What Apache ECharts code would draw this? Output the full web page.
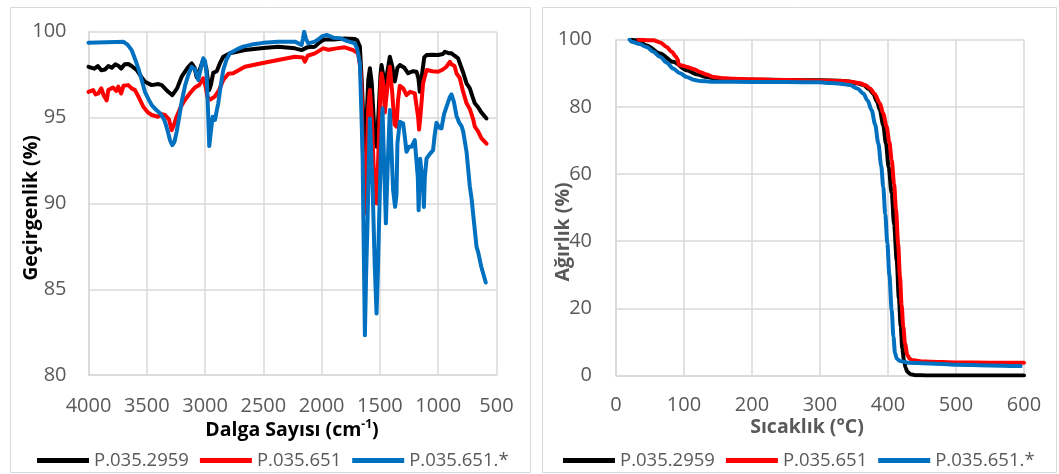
<!DOCTYPE html>
<html>
<head>
<meta charset="utf-8">
<script src="https://cdn.jsdelivr.net/npm/echarts@6/dist/echarts.min.js"></script>
<style>
  html, body { margin: 0; padding: 0; background: #ffffff; }
  #chart { width: 1059px; height: 474px; }
</style>
</head>
<body>
<div id="chart"></div>
<script>
// Sample names shared by both panels
const seriesNames = ['P.035.2959', 'P.035.651', 'P.035.651.*'];
const seriesColors = ['#000000', '#ff0000', '#0070c0'];

// FTIR axis ticks (wavenumber, cm-1) and transmittance (%)
const ftirXTicks = { min: 500, max: 4000, step: 500 };
const ftirYTicks = { min: 80, max: 100, step: 5 };

// TGA axis ticks (temperature, °C) and weight (%)
const tgaXTicks = { min: 0, max: 600, step: 100 };
const tgaYTicks = { min: 0, max: 100, step: 20 };

// FTIR spectra: [wavenumber, transmittance %]
const ftirP2959 = [
  [4000, 97.95], [3987, 97.96], [3950, 97.85], [3920, 98.0], [3890, 97.75], [3859, 97.8], [3830, 98.0],
  [3800, 97.9], [3770, 98.1], [3744, 98.02], [3720, 97.85], [3690, 98.1], [3659, 98.12], [3630, 98.0],
  [3587, 97.77], [3550, 97.4], [3516, 97.09], [3458, 96.89], [3400, 96.95], [3372, 96.89], [3316, 96.5],
  [3281, 96.31], [3240, 96.7], [3201, 97.38], [3150, 97.9], [3115, 98.16], [3090, 97.9], [3072, 97.35],
  [3040, 97.9], [3016, 98.35], [2990, 97.9], [2965, 96.6], [2950, 96.9], [2930, 97.6], [2900, 97.7],
  [2870, 98.2], [2844, 98.54], [2787, 98.74], [2658, 98.93], [2500, 99.05], [2373, 99.13], [2229, 99.03],
  [2172, 98.93], [2120, 99.1], [2058, 99.13], [2015, 99.4], [1977, 99.55], [1900, 99.55], [1800, 99.6],
  [1715, 99.58], [1695, 99.5], [1672, 99.13], [1655, 97.0], [1640, 94.5], [1629, 93.1], [1615, 94.8],
  [1600, 97.2], [1586, 97.87], [1570, 97.0], [1550, 94.5], [1529, 93.3], [1510, 95.5], [1495, 97.5],
  [1486, 98.06], [1470, 97.4], [1458, 96.3], [1440, 97.5], [1415, 98.54], [1395, 98.0], [1372, 97.1],
  [1350, 97.9], [1329, 98.06], [1315, 98.16], [1290, 97.9], [1258, 97.58], [1220, 97.7], [1186, 97.67],
  [1170, 97.3], [1158, 96.5], [1145, 97.2], [1120, 98.5], [1100, 98.64], [1050, 98.66], [1001, 98.64],
  [960, 98.7], [943, 98.83], [910, 98.75], [900, 98.83], [886, 98.74], [860, 98.6], [829, 98.45],
  [815, 98.16], [790, 97.7], [757, 96.99], [729, 96.7], [700, 96.1], [686, 95.83], [658, 95.6],
  [630, 95.3], [586, 94.95]
];
const ftirP651 = [
  [4000, 96.5], [3987, 96.5], [3960, 96.6], [3940, 96.35], [3916, 96.41], [3890, 96.7], [3870, 96.3],
  [3844, 96.0], [3830, 96.6], [3816, 96.5], [3790, 96.75], [3760, 96.55], [3744, 96.8], [3720, 96.4],
  [3700, 96.85], [3659, 96.89], [3630, 96.7], [3601, 96.6], [3570, 96.2], [3530, 95.63], [3490, 95.3],
  [3458, 95.15], [3402, 95.05], [3370, 95.2], [3344, 95.15], [3310, 94.9], [3287, 94.27], [3265, 94.6],
  [3244, 95.05], [3210, 95.6], [3173, 96.02], [3120, 96.5], [3087, 96.75], [3050, 96.9], [3016, 97.29],
  [2995, 96.8], [2980, 96.2], [2955, 96.05], [2940, 96.1], [2915, 96.24], [2880, 96.6], [2844, 97.19],
  [2800, 97.55], [2759, 97.58], [2658, 97.96], [2515, 98.16], [2373, 98.35], [2229, 98.54], [2160, 98.5],
  [2144, 98.25], [2120, 98.6], [2058, 98.74], [1987, 99.03], [1940, 98.95], [1872, 99.03], [1802, 99.09],
  [1730, 98.93], [1687, 98.74], [1670, 98.0], [1658, 96.8], [1645, 92.5], [1629, 89.42], [1615, 92.0],
  [1600, 95.5], [1586, 96.6], [1570, 95.0], [1550, 91.5], [1529, 90.0], [1510, 93.5], [1495, 96.8],
  [1486, 97.58], [1470, 96.9], [1458, 95.3], [1440, 96.5], [1415, 97.96], [1395, 96.5], [1375, 94.6],
  [1358, 94.47], [1345, 96.0], [1329, 96.85], [1300, 96.7], [1272, 96.31], [1240, 96.5], [1201, 96.41],
  [1186, 96.3], [1172, 95.0], [1164, 94.3], [1150, 95.3], [1130, 97.0], [1100, 97.77], [1050, 97.7],
  [1001, 97.67], [960, 97.8], [929, 97.96], [900, 98.25], [886, 98.1], [860, 98.0], [843, 97.58],
  [815, 97.3], [790, 96.6], [757, 95.83], [729, 95.5], [700, 94.9], [686, 94.47], [658, 94.2],
  [630, 93.8], [586, 93.48]
];
const ftirP651Star = [
  [4000, 99.36], [3987, 99.36], [3850, 99.38], [3760, 99.4], [3702, 99.42], [3665, 99.25], [3630, 98.93],
  [3600, 98.4], [3573, 97.87], [3540, 97.1], [3516, 96.5], [3480, 96.0], [3458, 95.73], [3420, 95.45],
  [3387, 95.25], [3360, 95.0], [3344, 94.76], [3320, 94.2], [3301, 93.69], [3281, 93.4], [3262, 93.6],
  [3244, 94.17], [3220, 95.1], [3201, 95.92], [3170, 96.9], [3144, 97.48], [3115, 97.96], [3085, 97.8],
  [3059, 97.19], [3035, 97.9], [3016, 98.45], [3000, 98.3], [2987, 97.58], [2975, 95.5], [2964, 93.34],
  [2950, 94.2], [2935, 95.05], [2915, 94.86], [2900, 95.4], [2887, 95.83], [2865, 96.9], [2844, 97.77],
  [2815, 98.4], [2787, 98.74], [2720, 99.0], [2673, 99.13], [2600, 99.25], [2500, 99.35], [2373, 99.42],
  [2229, 99.42], [2172, 99.23], [2160, 99.6], [2150, 100.0], [2135, 99.6], [2115, 99.32], [2058, 99.42],
  [2030, 99.55], [2001, 99.71], [1958, 99.81], [1900, 99.65], [1844, 99.62], [1780, 99.45], [1715, 99.32],
  [1695, 99.0], [1672, 98.16], [1660, 95.5], [1649, 92.92], [1638, 87.0], [1629, 82.33], [1618, 86.0],
  [1606, 89.03], [1595, 92.5], [1586, 94.95], [1575, 93.0], [1563, 90.97], [1545, 86.5], [1529, 83.59],
  [1518, 86.0], [1507, 89.03], [1492, 93.0], [1478, 95.54], [1465, 92.5], [1449, 88.84], [1432, 92.5],
  [1415, 95.44], [1400, 93.0], [1387, 90.78], [1370, 89.8], [1358, 90.5], [1350, 93.5], [1329, 94.76],
  [1301, 94.66], [1285, 93.8], [1272, 93.01], [1250, 93.3], [1229, 93.3], [1201, 93.69], [1186, 93.79],
  [1175, 91.5], [1168, 89.61], [1155, 92.6], [1143, 92.53], [1130, 91.0], [1123, 89.8], [1115, 91.5],
  [1100, 92.62], [1070, 92.9], [1044, 93.1], [1030, 94.0], [1015, 94.7], [990, 94.4], [972, 94.37],
  [950, 95.2], [929, 95.63], [900, 96.2], [886, 96.35], [865, 95.9], [843, 95.1], [820, 94.7],
  [800, 94.5], [786, 94.2], [757, 93.01], [729, 91.0], [714, 90.29], [690, 88.7], [671, 87.47],
  [658, 87.18], [630, 86.3], [592, 85.4]
];

// TGA curves: [temperature °C, weight %]
const tgaP2959 = [
  [22, 100], [30, 99.8], [45, 98.3], [65, 95.9], [84, 93.4], [104, 90.9], [120, 89.6], [133, 88.9],
  [150, 88.3], [172, 88.2], [200, 88.1], [250, 88.0], [300, 87.9], [330, 87.8], [345, 87.5], [355, 87.0],
  [364, 86.5], [372, 85.3], [378, 84.0], [384, 81.5], [388, 79.1], [393, 74.5], [397, 69.1], [401, 62],
  [405.4, 54.3], [409, 45], [412.8, 34.4], [416, 23], [418.7, 14.5], [421, 8], [423.5, 4.6], [426, 2.2],
  [428.4, 1.1], [433, 0.4], [440, 0.1], [460, 0], [600, 0]
];
const tgaP651 = [
  [33, 100], [55, 99.8], [65, 99.2], [74.5, 97.8], [82, 96.4], [88, 95.0], [91, 94.0], [92, 92.6],
  [97, 92.3], [104, 91.9], [115, 91.2], [123.5, 90.4], [133, 89.6], [143, 88.9], [160, 88.5],
  [172.5, 88.4], [200, 88.2], [250, 88.0], [300, 87.8], [330, 87.7], [345, 87.5], [359, 87.0],
  [367, 86.4], [373.5, 85.5], [380, 84.0], [388, 81.1], [393, 78.0], [398, 74.1], [402, 69.5],
  [405.4, 64.2], [409, 57], [411.8, 49.3], [415, 39], [417.6, 29.4], [420, 21], [422.5, 14.5],
  [425, 9.5], [428.4, 6.1], [432, 5.0], [434.8, 4.6], [450, 4.2], [461.8, 4.1], [500, 3.9],
  [550, 3.8], [600, 3.8]
];
const tgaP651Star = [
  [20, 100], [23, 99.4], [35, 98.7], [45, 97.8], [55, 96.4], [64.7, 94.9], [75, 93.1], [84, 91.4],
  [94, 90.0], [104, 88.9], [114, 88.1], [123.5, 87.7], [140, 87.5], [200, 87.4], [250, 87.4],
  [300, 87.3], [314.7, 87.1], [330, 86.9], [344, 86.5], [355, 85.5], [363.7, 84.0], [370, 81.9],
  [376, 79.0], [381, 74.8], [385.8, 69.1], [390, 62.5], [393, 56.2], [396, 48], [399, 39.4],
  [402, 30], [405.4, 19.6], [408, 11.5], [410.3, 6.7], [413, 5.0], [417.6, 4.3], [430, 3.8],
  [461.8, 3.6], [500, 3.2], [550, 3.0], [595, 2.8]
];

const FONT = "'Open Sans', 'Liberation Sans', sans-serif";
const GRID_COLOR = '#d9d9d9';
const LABEL_COLOR = '#595959';

function tickLabels(margin) {
  return { color: LABEL_COLOR, fontSize: 20, fontFamily: FONT, margin: margin, formatter: (v) => String(v) };
}

function valueAxis(gridIndex, t, extra) {
  return Object.assign({
    type: 'value',
    gridIndex: gridIndex,
    min: t.min,
    max: t.max,
    interval: t.step,
    axisLine: { show: true, lineStyle: { color: GRID_COLOR, width: 1.5 } },
    axisTick: { show: false },
    splitLine: { show: true, lineStyle: { color: GRID_COLOR, width: 1.5 } }
  }, extra);
}

function lineSeries(i, data, axisIndex, smooth) {
  return {
    name: seriesNames[i],
    type: 'line',
    xAxisIndex: axisIndex,
    yAxisIndex: axisIndex,
    data: data,
    showSymbol: false,
    symbol: 'none',
    smooth: smooth,
    smoothMonotone: smooth ? 'x' : undefined,
    lineStyle: { color: seriesColors[i], width: 4, join: 'round', cap: 'round' },
    itemStyle: { color: seriesColors[i] },
    z: 2 + i
  };
}

function legendAt(left) {
  return {
    left: left,
    top: 446,
    icon: 'rect',
    itemWidth: 52,
    itemHeight: 5,
    itemGap: 11,
    data: seriesNames,
    textStyle: { color: LABEL_COLOR, fontSize: 18.5, fontFamily: FONT },
    selectedMode: false
  };
}

const titleStyle = (color) => ({ fontSize: 19.5, fontWeight: 'bold', fontFamily: FONT, fill: color });

const chart = echarts.init(document.getElementById('chart'), null, { renderer: 'canvas' });
chart.setOption({
  animation: false,
  backgroundColor: '#ffffff',
  grid: [
    { left: 88.5, top: 31.7, width: 408, height: 343.5 },
    { left: 616, top: 39.7, width: 408, height: 335.8 }
  ],
  xAxis: [
    valueAxis(0, ftirXTicks, { inverse: true, axisLabel: tickLabels(21) }),
    valueAxis(1, tgaXTicks, { axisLabel: tickLabels(20) })
  ],
  yAxis: [
    valueAxis(0, ftirYTicks, { axisLabel: tickLabels(22) }),
    valueAxis(1, tgaYTicks, { axisLabel: tickLabels(24) })
  ],
  legend: [legendAt(32), legendAt(558)],
  series: [
    lineSeries(0, ftirP2959, 0, false),
    lineSeries(1, ftirP651, 0, false),
    lineSeries(2, ftirP651Star, 0, false),
    lineSeries(0, tgaP2959, 1, 0.3),
    lineSeries(1, tgaP651, 1, 0.3),
    lineSeries(2, tgaP651Star, 1, 0.3)
  ],
  graphic: [
    // panel frames
    { type: 'rect', shape: { x: 10.5, y: 7.5, width: 520, height: 465 }, style: { fill: 'none', stroke: GRID_COLOR, lineWidth: 1 }, silent: true, z: -1 },
    { type: 'rect', shape: { x: 542.5, y: 7.5, width: 514, height: 465 }, style: { fill: 'none', stroke: GRID_COLOR, lineWidth: 1 }, silent: true, z: -1 },
    // axis titles
    { type: 'text', x: 31, y: 208, rotation: Math.PI / 2,
      style: Object.assign(titleStyle('#000000'), { text: 'Geçirgenlik (%)', align: 'center', verticalAlign: 'middle' }) },
    { type: 'text', x: 292, y: 430,
      style: Object.assign(titleStyle('#000000'), {
        text: '{t|Dalga Sayısı (cm}{s|-1}{t|)}', align: 'center', verticalAlign: 'middle',
        rich: {
          t: { fontSize: 19.5, fontWeight: 'bold', fontFamily: FONT, fill: '#000000' },
          s: { fontSize: 12, fontWeight: 'bold', fontFamily: FONT, fill: '#000000', verticalAlign: 'top', padding: [0, 0, 10, 0] }
        }
      }) },
    { type: 'text', x: 563, y: 232, rotation: Math.PI / 2,
      style: Object.assign(titleStyle(LABEL_COLOR), { text: 'Ağırlık (%)', align: 'center', verticalAlign: 'middle' }) },
    { type: 'text', x: 807, y: 427,
      style: Object.assign(titleStyle(LABEL_COLOR), { text: 'Sıcaklık (°C)', align: 'center', verticalAlign: 'middle' }) }
  ]
});
</script>
</body>
</html>
